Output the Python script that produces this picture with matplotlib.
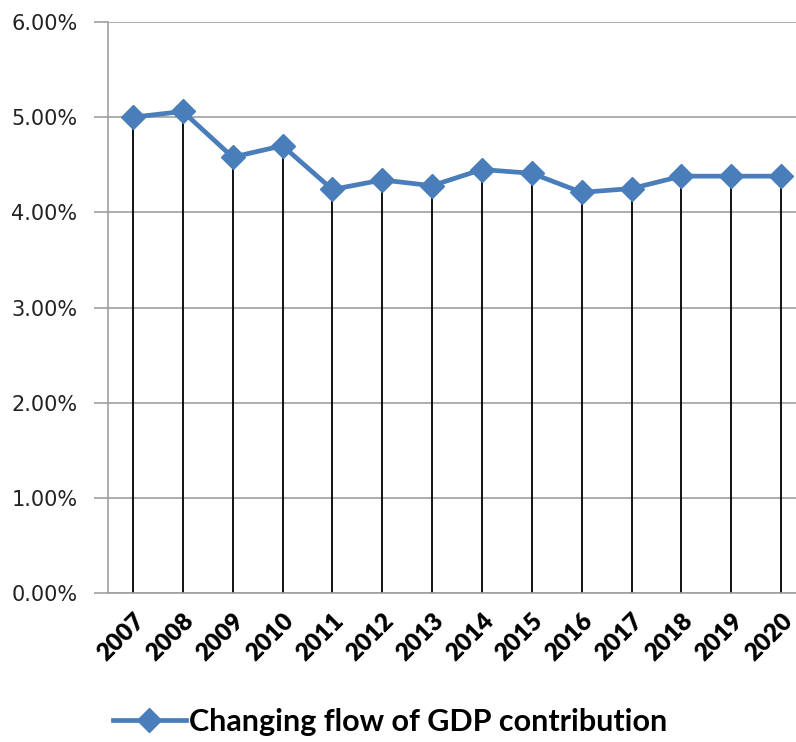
import matplotlib
matplotlib.use("Agg")
import matplotlib.pyplot as plt
from matplotlib.ticker import FuncFormatter
from matplotlib.lines import Line2D

years = ["2007", "2008", "2009", "2010", "2011", "2012", "2013",
         "2014", "2015", "2016", "2017", "2018", "2019", "2020"]
gdp_share = [5.00, 5.06, 4.58, 4.70, 4.24, 4.34, 4.28,
             4.45, 4.41, 4.21, 4.25, 4.38, 4.38, 4.38]
series_name = "Changing flow of GDP contribution"

W, H = 796, 742
fig = plt.figure(figsize=(W / 100, H / 100), dpi=100)
left, right, top, bottom = 108, 806, 22, 593
ax = fig.add_axes([left / W, (H - bottom) / H, (right - left) / W, (bottom - top) / H])

x = list(range(len(years)))
blue = "#4A7EBB"

ax.vlines(x, 0, gdp_share, colors="black", linewidth=1.3, zorder=2)
ax.plot(x, gdp_share, color=blue, linewidth=3.4, marker="D", markersize=12,
        markeredgecolor=blue, zorder=3)

ax.set_xlim(-0.5, len(years) - 0.5)
ax.set_ylim(0, 6)
ax.set_yticks([0, 1, 2, 3, 4, 5, 6])
ax.yaxis.set_major_formatter(FuncFormatter(lambda v, p: f"{v:.2f}%"))
ax.grid(axis="y", color="#a0a0a0", linewidth=1.2, zorder=0)
ax.set_axisbelow(True)

for s in ["top", "right"]:
    ax.spines[s].set_visible(False)
ax.spines["left"].set_color("#a0a0a0")
ax.spines["left"].set_linewidth(1.2)
ax.spines["bottom"].set_color("#a0a0a0")
ax.spines["bottom"].set_linewidth(1.2)

ax.tick_params(axis="y", length=10, color="#a0a0a0", width=1.2, labelsize=15,
               pad=12, labelcolor="#222222")
ax.tick_params(axis="x", length=0, pad=12)
ax.set_xticks(x)
ax.set_xticklabels(years, rotation=45, ha="right", rotation_mode="anchor",
                   fontsize=17.5, fontweight="heavy", family="Lato")
for lab in ax.get_yticklabels():
    lab.set_family("DejaVu Sans")

handle = Line2D([], [], color=blue, linewidth=3.4, marker="D", markersize=12)
fig.legend([handle], [series_name], loc="center", bbox_to_anchor=(0.49, 1 - 722 / H),
           frameon=False, handlelength=2.4, handletextpad=0.1,
           prop={"family": "Lato", "weight": "bold", "size": 22})

fig.savefig("out.png", dpi=100)
